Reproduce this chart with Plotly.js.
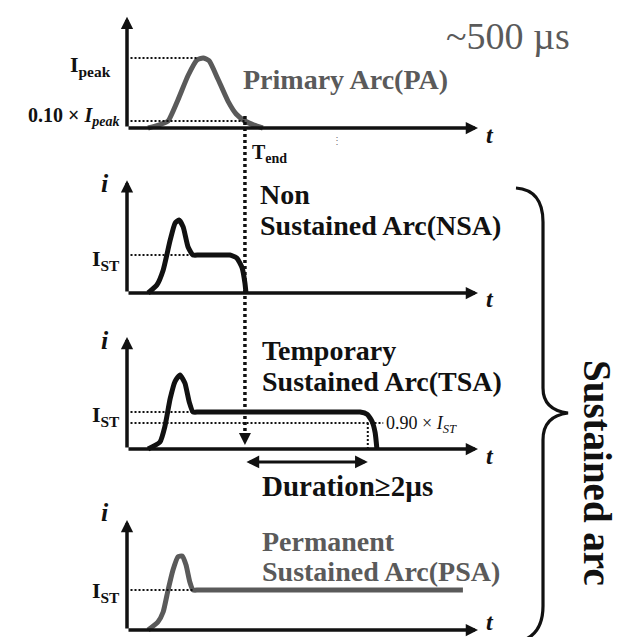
<!DOCTYPE html>
<html><head><meta charset="utf-8">
<script src="https://cdn.plot.ly/plotly-3.0.1.min.js"></script>
<style>html,body{margin:0;padding:0;background:#fff;}#chart{width:621px;height:637px;}</style>
</head><body><div id="chart"></div>
<script>
// ---------------- data (time in arbitrary units, current normalised) ----------------
const paTime     = [0.60, 0.94, 1.17, 1.45, 1.74, 1.99, 2.17, 2.34, 2.59, 2.88, 3.11, 3.36, 3.62, 3.87];
const paCurrent  = [0.00, 0.05, 0.10, 0.40, 0.75, 0.97, 1.00, 0.96, 0.70, 0.38, 0.20, 0.10, 0.04, 0.00];

const nsaTime    = [0.60, 0.85, 1.03, 1.23, 1.37, 1.48, 1.60, 1.74, 1.88, 2.05, 2.80, 2.93, 3.13, 3.28, 3.36, 3.39];
const nsaCurrent = [0.00, 0.21, 0.60, 1.39, 1.84, 1.92, 1.74, 1.21, 1.00, 1.00, 1.00, 1.00, 0.92, 0.66, 0.26, 0.00];

const tsaTime    = [0.60, 0.94, 1.08, 1.23, 1.37, 1.51, 1.65, 1.77, 1.88, 2.05, 6.50, 6.64, 6.84, 6.98, 7.07, 7.12];
const tsaCurrent = [0.00, 0.19, 0.61, 1.36, 1.83, 2.00, 1.78, 1.28, 1.00, 1.00, 1.00, 1.00, 0.94, 0.75, 0.44, 0.00];

const psaTime    = [0.60, 0.88, 1.03, 1.17, 1.31, 1.45, 1.57, 1.68, 1.79, 1.88, 2.05, 9.40, 9.57];
const psaCurrent = [0.00, 0.20, 0.45, 1.00, 1.50, 1.83, 1.85, 1.63, 1.20, 1.00, 1.00, 1.00, 1.00];

const panelTops   = [1.59, 2.97, 3.03, 2.75];   // top of each current axis
const timeAxisEnd = 10;                          // end of each time axis
const refStart    = 0.1;                         // dotted reference lines start
const peakLevel   = 1.0, peakRefEnd = 2.02, tenPctLevel = 0.1;
const stLevel     = 1.0, stRefEnd = 1.88;
const tsa90Level  = 0.70, tsa90End = 7.3;       // drawn position of the 0.90×I_ST line
const tEnd        = 3.36;
const durationEnd = 6.86;
const durationY   = -0.35;

// ---------------- layout geometry (pixels) ----------------
const W = 621, H = 637, X0 = 127, XS = 35.1;
const baselines = [128, 293, 449, 630];
const units     = [70, 38, 37, 40];
const yref = ['y', 'y2', 'y3', 'y4'];
const px = v => v / W, py = v => 1 - v / H;
const FONT = 'Liberation Serif';
const GRAY = '#5a5a5a';

const traces = [
  {x: paTime,  y: paCurrent,  color: GRAY},
  {x: nsaTime, y: nsaCurrent, color: '#111'},
  {x: tsaTime, y: tsaCurrent, color: '#111'},
  {x: psaTime, y: psaCurrent, color: GRAY}
].map((d, k) => ({
  type: 'scatter', mode: 'lines', x: d.x, y: d.y,
  xaxis: 'x', yaxis: yref[k],
  line: {color: d.color, width: 5, shape: 'spline', smoothing: 0.5},
  hoverinfo: 'skip'
}));

const layout = {
  width: W, height: H, autosize: false,
  margin: {l: 0, r: 0, t: 0, b: 0},
  paper_bgcolor: '#fff', plot_bgcolor: '#fff',
  showlegend: false, hovermode: false,
  xaxis: {range: [-X0 / XS, (W - X0) / XS], visible: false, fixedrange: true},
  shapes: [], annotations: []
};
baselines.forEach((b, k) => {
  const name = k === 0 ? 'yaxis' : 'yaxis' + (k + 1);
  layout[name] = {range: [(b - H) / units[k], b / units[k]], visible: false, fixedrange: true};
  if (k > 0) layout[name].overlaying = 'y';
});

const dotted = (x0, y0, x1, y1, yr, w) => ({
  type: 'line', xref: 'x', yref: yr, x0, y0, x1, y1,
  line: {color: '#111', width: w || 2, dash: '2px,2px'}
});
layout.shapes.push(
  dotted(refStart, peakLevel, peakRefEnd, peakLevel, 'y'),
  dotted(refStart, tenPctLevel, tEnd, tenPctLevel, 'y'),
  dotted(refStart, stLevel, stRefEnd, stLevel, 'y2'),
  dotted(refStart, stLevel, stRefEnd, stLevel, 'y3'),
  dotted(refStart, tsa90Level, tsa90End, tsa90Level, 'y3'),
  dotted(durationEnd, 0, durationEnd, tsa90Level, 'y3'),
  dotted(refStart, stLevel, stRefEnd, stLevel, 'y4'),
  {type: 'line', xref: 'x', yref: 'paper', x0: tEnd, x1: tEnd, y0: py(116), y1: py(434),
   line: {color: '#111', width: 3.5, dash: '3px,3px'}}
);
// brace
const P = (x, y) => px(x).toFixed(4) + ',' + py(y).toFixed(4);
layout.shapes.push({
  type: 'path', xref: 'paper', yref: 'paper',
  path: 'M' + P(516, 188) + ' Q' + P(543, 190) + ' ' + P(543, 222) +
        ' L' + P(543, 388) + ' Q' + P(543, 410) + ' ' + P(568, 413) +
        ' Q' + P(543, 416) + ' ' + P(543, 440) + ' L' + P(543, 606) +
        ' Q' + P(543, 636) + ' ' + P(518, 642),
  line: {color: '#111', width: 3.2}
});

// axes arrows
baselines.forEach((b, k) => {
  const base = {xref: 'x', yref: yref[k], axref: 'x', ayref: yref[k], text: '', showarrow: true,
                arrowhead: 2, arrowsize: 0.7, arrowwidth: 3.5, arrowcolor: '#111', standoff: 0};
  layout.annotations.push(Object.assign({}, base, {x: 0, y: panelTops[k], ax: 0, ay: 0}));
  layout.annotations.push(Object.assign({}, base, {x: timeAxisEnd, y: 0, ax: 0, ay: 0}));
});
// T_end arrow head
layout.annotations.push({xref: 'x', yref: 'paper', x: tEnd, y: py(445), ax: 0, ay: -13, text: '',
  showarrow: true, arrowhead: 2, arrowsize: 1.2, arrowwidth: 2, arrowcolor: '#111', standoff: 0});
// duration arrow
layout.annotations.push({xref: 'x', yref: 'y3', axref: 'x', ayref: 'y3', x: durationEnd, y: durationY,
  ax: tEnd, ay: durationY, text: '', showarrow: true, arrowside: 'end+start',
  arrowhead: 2, startarrowhead: 2, arrowsize: 0.85, startarrowsize: 0.85, arrowwidth: 3,
  arrowcolor: '#111', standoff: 0, startstandoff: 0});

// texts
const T = (text, x, y, size, o) => layout.annotations.push(Object.assign({
  xref: 'paper', yref: 'paper', x: px(x), y: py(y), text, showarrow: false,
  xanchor: 'left', yanchor: 'middle', font: {family: FONT, size, color: '#111'}
}, o || {}));

T('~500 µs', 508, 36, 38, {xanchor: 'center', font: {family: FONT, size: 38, color: GRAY}});
T('<b>Primary Arc(PA)</b>', 241, 80, 28, {font: {family: FONT, size: 28, color: GRAY}});
T('<b>I<sub>peak</sub></b>', 113, 66, 22, {xanchor: 'right'});
T('<b>0.10 × <i>I</i><sub><i>peak</i></sub></b>', 121, 117, 20, {xanchor: 'right'});
T('<b>T<sub>end</sub></b>', 250, 153, 20);
T('⋮', 337, 140, 10, {xanchor: 'center', font: {family: FONT, size: 10, color: '#777'}});

[183, 340, 512].forEach(y => T('<b><i>i</i></b>', 105, y, 26, {xanchor: 'center'}));
[135, 299, 456, 622].forEach(y => T('<b><i>t</i></b>', 484, y, 24));
[260, 416, 592].forEach(y => T('<b>I<sub>ST</sub></b>', 122, y, 22, {xanchor: 'right'}));

T('<b>Non</b>', 258, 194, 28);
T('<b>Sustained Arc(NSA)</b>', 258, 225, 28);
T('<b>Temporary</b>', 260, 350, 28);
T('<b>Sustained Arc(TSA)</b>', 260, 381, 28);
T('0.90 × <i>I<sub>ST</sub></i>', 384, 424, 18);
T('<b>Duration≥2µs</b>', 260, 486, 29);
T('<b>Permanent</b>', 260, 541, 28, {font: {family: FONT, size: 28, color: GRAY}});
T('<b>Sustained Arc(PSA)</b>', 260, 571, 28, {font: {family: FONT, size: 28, color: GRAY}});
T('<b>Sustained arc</b>', 598, 473, 39, {xanchor: 'center', textangle: 90});

Plotly.newPlot('chart', traces, layout, {staticPlot: true, displayModeBar: false});
</script></body></html>
